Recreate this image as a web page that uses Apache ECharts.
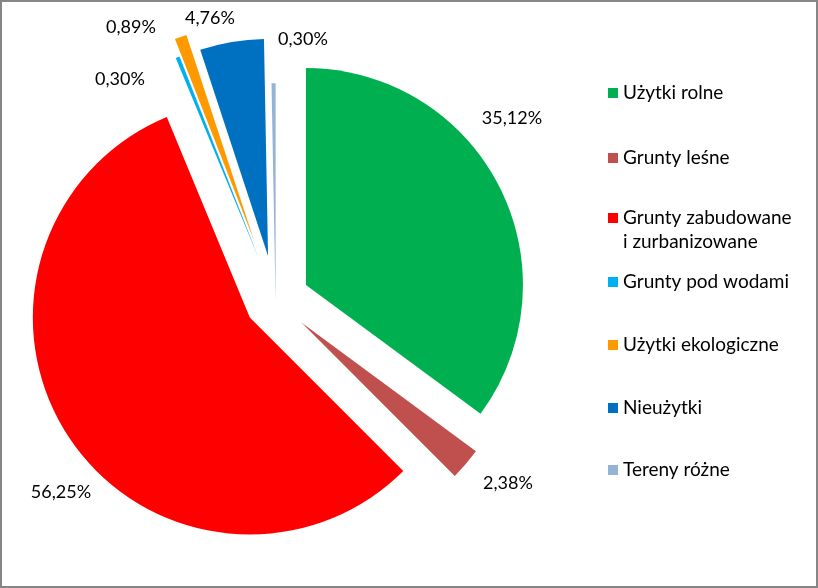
<!DOCTYPE html>
<html>
<head>
<meta charset="utf-8">
<script src="https://cdn.jsdelivr.net/npm/echarts@6/dist/echarts.min.js"></script>
<style>
html,body{margin:0;padding:0;background:#fff;}
#chart{width:818px;height:588px;}
</style>
</head>
<body>
<div id="chart"></div>
<script>
const categories = ['Użytki rolne', 'Grunty leśne', 'Grunty zabudowane i zurbanizowane', 'Grunty pod wodami', 'Użytki ekologiczne', 'Nieużytki', 'Tereny różne'];
const shares = [35.12, 2.38, 56.25, 0.30, 0.89, 4.76, 0.30];
const colors = ['#00B050', '#C0504D', '#FF0000', '#00B0F0', '#FF9900', '#0070C0', '#95B3D7'];
const explodeGroup = [0, 0, 1, 2, 3, 2, 4];
const groupOffsets = [34, 31, 45, 63, 0];
const labelPos = [[512, 118], [508, 483], [61, 492], [120, 79], [131, 27], [210, 18], [303, 39]];
const legendCenters = [93, 158, 218, 282, 345, 408, 470];

const FONT = 'Lato';
const fmt = v => v.toFixed(2).replace('.', ',') + '%';
const LABEL_GROUP = groupOffsets.length - 1; // unexploded series carries all labels

const series = groupOffsets.map((off, g) => ({
  type: 'pie',
  center: [275.6, 300.3],
  radius: [0, 217],
  startAngle: 90,
  clockwise: true,
  selectedMode: 'multiple',
  selectedOffset: off,
  avoidLabelOverlap: false,
  animation: false,
  silent: true,
  z: g === LABEL_GROUP ? 3 : 2,
  emphasis: { disabled: true },
  labelLine: { show: false },
  label: {
    show: g === LABEL_GROUP,
    position: 'outside',
    fontFamily: FONT,
    fontSize: 18,
    color: '#000',
    formatter: p => fmt(p.value)
  },
  labelLayout: p => {
    const pos = labelPos[p.dataIndex];
    return { x: pos[0], y: pos[1], align: 'center', verticalAlign: 'middle' };
  },
  data: categories.map((name, i) => {
    const mine = explodeGroup[i] === g;
    return {
      name: name,
      value: shares[i],
      selected: mine && off > 0,
      itemStyle: { color: mine ? colors[i] : 'rgba(0,0,0,0)', borderWidth: 0 }
    };
  })
}));

const legends = categories.map((name, i) => {
  const twoLine = name.indexOf(' i ') >= 0;
  return {
    orient: 'vertical',
    left: 608,
    top: twoLine ? legendCenters[i] - 36 : legendCenters[i] - 12,
    padding: 0,
    icon: 'rect',
    itemWidth: 10,
    itemHeight: 10,
    selectedMode: false,
    formatter: n => (n.indexOf(' i ') >= 0 ? '\n' + n.replace(' i ', '\ni ') : n),
    textStyle: { fontFamily: FONT, fontSize: 19, color: '#000', lineHeight: 24 },
    data: [{ name: name, itemStyle: { color: colors[i] } }]
  };
});

const chart = echarts.init(document.getElementById('chart'), null, { renderer: 'canvas' });
chart.setOption({
  backgroundColor: '#fff',
  animation: false,
  legend: legends,
  series: series,
  graphic: [{
    type: 'rect',
    silent: true,
    z: 100,
    shape: { x: 1, y: 1, width: 816, height: 586 },
    style: { fill: 'none', stroke: '#868686', lineWidth: 2 }
  }]
});
</script>
</body>
</html>
